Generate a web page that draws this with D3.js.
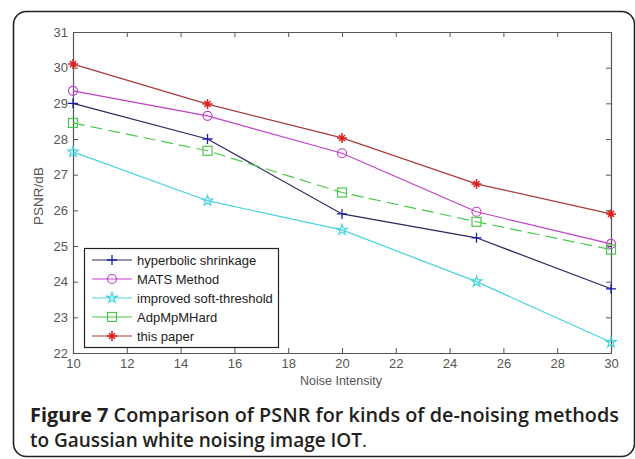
<!DOCTYPE html>
<html>
<head>
<meta charset="utf-8">
<script src="https://cdn.jsdelivr.net/npm/d3@7"></script>
<style>
  body { margin: 0; background: #fff; }
  svg { display: block; }
</style>
</head>
<body>
<svg id="chart" width="635" height="459"></svg>
<script>
// Data
const noiseLevels = [10, 15, 20, 25, 30];
const hyperbolic = [29.0, 28.0, 25.9, 25.23, 23.8];
const mats = [29.35, 28.65, 27.6, 25.96, 25.06];
const improvedSoft = [27.64, 26.27, 25.45, 24.0, 22.3];
const adpMpMHard = [28.45, 27.67, 26.5, 25.68, 24.9];
const thisPaper = [30.1, 28.98, 28.03, 26.74, 25.9];
const xTicks = [10, 12, 14, 16, 18, 20, 22, 24, 26, 28, 30];
const yTicks = [22, 23, 24, 25, 26, 27, 28, 29, 30, 31];

const series = [
    { name: 'hyperbolic shrinkage', values: hyperbolic, line: '#2a2a5e', mark: '#1c1cb0', marker: 'plus', dash: null },
    { name: 'MATS Method', values: mats, line: '#c040c8', mark: '#c040c8', marker: 'circle', dash: null },
    { name: 'improved soft-threshold', values: improvedSoft, line: '#48d4dc', mark: '#48d4dc', marker: 'star', dash: null },
    { name: 'AdpMpMHard', values: adpMpMHard, line: '#48c848', mark: '#48c848', marker: 'square', dash: '12,6' },
    { name: 'this paper', values: thisPaper, line: '#a83a3a', mark: '#e02020', marker: 'asterisk', dash: null }
];

const svg = d3.select('#chart');

// Outer rounded frame
svg.append('rect')
    .attr('x', 13.5).attr('y', 11.5)
    .attr('width', 621).attr('height', 445)
    .attr('rx', 13).attr('ry', 13)
    .attr('fill', 'none')
    .attr('stroke', '#222')
    .attr('stroke-width', 1.6);

const plot = { left: 73, right: 611, top: 32, bottom: 353 };

const x = d3.scaleLinear().domain([10, 30]).range([plot.left, plot.right]);
const y = d3.scaleLinear().domain([22, 31]).range([plot.bottom, plot.top]);

const axisColor = '#555';
const tickFont = '13px "Liberation Sans", Arial, sans-serif';

// Axes (MATLAB style: inward ticks on all four sides)
const gx = svg.append('g').attr('transform', `translate(0,${plot.bottom})`)
    .call(d3.axisBottom(x).tickValues(xTicks).tickSizeInner(-5).tickSizeOuter(0).tickPadding(6));
const gxTop = svg.append('g').attr('transform', `translate(0,${plot.top})`)
    .call(d3.axisTop(x).tickValues(xTicks).tickSizeInner(-5).tickSizeOuter(0).tickFormat(''));
const gy = svg.append('g').attr('transform', `translate(${plot.left},0)`)
    .call(d3.axisLeft(y).tickValues(yTicks).tickSizeInner(-5).tickSizeOuter(0).tickPadding(5));
const gyRight = svg.append('g').attr('transform', `translate(${plot.right},0)`)
    .call(d3.axisRight(y).tickValues(yTicks).tickSizeInner(-5).tickSizeOuter(0).tickFormat(''));

[gx, gxTop, gy, gyRight].forEach(g => {
    g.select('.domain').attr('stroke', axisColor).attr('stroke-width', 1.2);
    g.selectAll('.tick line').attr('stroke', axisColor);
    g.selectAll('.tick text').attr('fill', '#555').style('font', tickFont);
});

// Axis titles
svg.append('text')
    .attr('x', 341)
    .attr('y', 385)
    .attr('text-anchor', 'middle')
    .attr('fill', '#555')
    .style('font', '12.5px "Liberation Sans", Arial, sans-serif')
    .text('Noise Intensity');

svg.append('text')
    .attr('transform', `translate(43,196) rotate(-90)`)
    .attr('text-anchor', 'middle')
    .attr('fill', '#555')
    .style('font', '13.5px "Liberation Sans", Arial, sans-serif')
    .text('PSNR/dB');

// Marker drawing
function drawMarker(g, type, color, cx, cy) {
    if (type === 'plus') {
        g.append('path').attr('d', `M${cx - 5},${cy}H${cx + 5}M${cx},${cy - 5}V${cy + 5}`)
            .attr('stroke', color).attr('stroke-width', 1.3).attr('fill', 'none');
    } else if (type === 'circle') {
        g.append('circle').attr('cx', cx).attr('cy', cy).attr('r', 4.5)
            .attr('stroke', color).attr('stroke-width', 1.2).attr('fill', 'none');
    } else if (type === 'square') {
        g.append('rect').attr('x', cx - 4.5).attr('y', cy - 4.5).attr('width', 9).attr('height', 9)
            .attr('stroke', color).attr('stroke-width', 1.2).attr('fill', 'none');
    } else if (type === 'star') {
        const star = d3.symbol().type(d3.symbolStar).size(34)();
        g.append('path').attr('d', star).attr('transform', `translate(${cx},${cy})`)
            .attr('stroke', color).attr('stroke-width', 1.2).attr('fill', 'none');
    } else if (type === 'asterisk') {
        g.append('path').attr('d', `M${cx - 5},${cy}H${cx + 5}M${cx},${cy - 5}V${cy + 5}M${cx - 3},${cy - 3}L${cx + 3},${cy + 3}M${cx - 3},${cy + 3}L${cx + 3},${cy - 3}`)
            .attr('stroke', color).attr('stroke-width', 1.5).attr('fill', 'none');
    }
}

const line = d3.line().x((d, i) => x(noiseLevels[i])).y(d => y(d));

series.forEach(s => {
    const g = svg.append('g');
    g.append('path')
        .datum(s.values)
        .attr('d', line)
        .attr('fill', 'none')
        .attr('stroke', s.line)
        .attr('stroke-width', 1.2)
        .attr('stroke-dasharray', s.dash);
    s.values.forEach((v, i) => drawMarker(g, s.marker, s.mark, x(noiseLevels[i]), y(v)));
});

// Legend
const legend = { x: 84, y: 248, w: 194, h: 99, row: 19 };
svg.append('rect')
    .attr('x', legend.x + 0.5).attr('y', legend.y + 0.5)
    .attr('width', legend.w).attr('height', legend.h)
    .attr('fill', '#fff').attr('stroke', '#222').attr('stroke-width', 1.2);

series.forEach((s, i) => {
    const ly = legend.y + 12 + i * legend.row;
    const g = svg.append('g');
    g.append('line')
        .attr('x1', legend.x + 8).attr('x2', legend.x + 48)
        .attr('y1', ly).attr('y2', ly)
        .attr('stroke', s.line).attr('stroke-width', 1.2);
    drawMarker(g, s.marker, s.mark, legend.x + 28, ly);
    g.append('text')
        .attr('x', legend.x + 53).attr('y', ly + 4.5)
        .attr('fill', '#222')
        .style('font', '13px "Liberation Sans", Arial, sans-serif')
        .text(s.name);
});

// Caption
const caption = svg.append('text')
    .attr('fill', '#231f20')
    .style('font', '600 19px "Open Sans", "Noto Sans", sans-serif');
caption.append('tspan').attr('x', 30).attr('y', 422)
    .attr('textLength', 589).attr('lengthAdjust', 'spacingAndGlyphs')
    .html('<tspan font-weight="bold">Figure 7</tspan> Comparison of PSNR for kinds of de-noising methods');
caption.append('tspan').attr('x', 30).attr('y', 447)
    .attr('textLength', 337).attr('lengthAdjust', 'spacingAndGlyphs')
    .html('to Gaussian white noising image IOT<tspan font-weight="normal">.</tspan>');
</script>
</body>
</html>
